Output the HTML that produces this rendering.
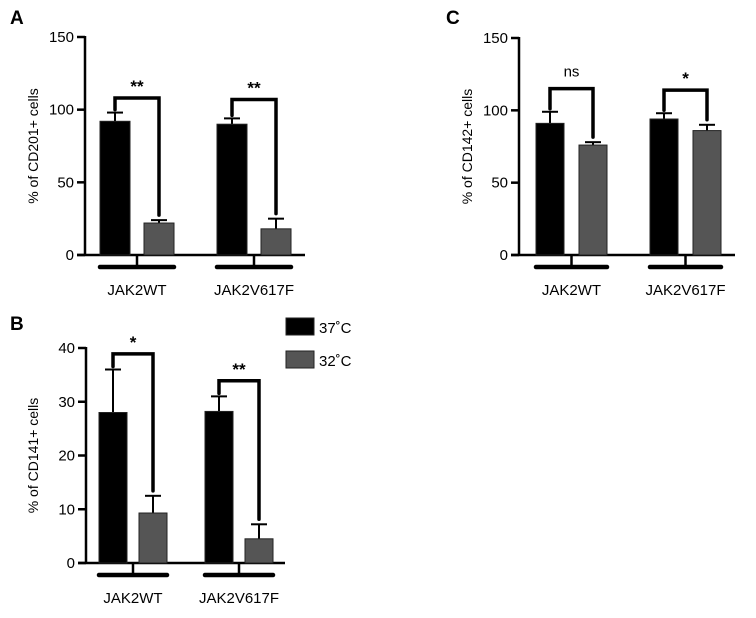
<!DOCTYPE html>
<html><head><meta charset="utf-8"><style>
html,body{margin:0;padding:0;background:#fff;}
svg{display:block;font-family:"Liberation Sans",Arial,sans-serif;}
</style></head><body>
<svg id="fig" width="756" height="618" viewBox="0 0 756 618" xmlns="http://www.w3.org/2000/svg">
<text x="10" y="24" font-size="19" font-weight="bold">A</text>
<text x="10" y="330" font-size="19" font-weight="bold">B</text>
<text x="446" y="24" font-size="19" font-weight="bold">C</text>
<g>
<rect x="286" y="318" width="28" height="17" fill="#000" stroke="#222"/>
<text x="319" y="333" font-size="15">37˚C</text>
<rect x="286" y="351" width="28" height="17" fill="#555" stroke="#222"/>
<text x="319" y="366" font-size="15">32˚C</text>
</g>
</svg>
<script>
const categories = ["JAK2WT", "JAK2V617F"];
const seriesNames = ["37C", "32C"];
const aMeans37 = [92, 90];
const aErr37 = [6, 4];
const aMeans32 = [22, 18];
const aErr32 = [2, 7];
const aSig = ["**", "**"];
const aBracketTop = [108, 107];
const aTicks = [0, 50, 100, 150];
const bMeans37 = [28, 28.2];
const bErr37 = [8, 2.8];
const bMeans32 = [9.3, 4.5];
const bErr32 = [3.2, 2.7];
const bSig = ["*", "**"];
const bBracketTop = [38.9, 33.9];
const bTicks = [0, 10, 20, 30, 40];
const cMeans37 = [91, 94];
const cErr37 = [8, 4];
const cMeans32 = [76, 86];
const cErr32 = [2, 4];
const cSig = ["ns", "*"];
const cBracketTop = [115, 114];
const cTicks = [0, 50, 100, 150];

const NS = "http://www.w3.org/2000/svg";
const svg = document.getElementById('fig');
function mk(tag, attrs, parent) {
  const e = document.createElementNS(NS, tag);
  for (const k in attrs) e.setAttribute(k, attrs[k]);
  (parent || svg).appendChild(e);
  return e;
}
function panel(cfg) {
  const g = mk('g', {});
  
  
  const ymax = cfg.ticks[cfg.ticks.length - 1];
  const y = v => cfg.y0 - (v / ymax) * (cfg.y0 - cfg.yTop);
  // axes
  const ya = mk('line', {x1: cfg.ax, y1: y(ymax) - 1, x2: cfg.ax, y2: cfg.y0, stroke: '#000', 'stroke-width': 2.5}, g);
  
  
  const xa = mk('line', {x1: cfg.ax - 8, y1: cfg.y0, x2: cfg.axEnd, y2: cfg.y0, stroke: '#000', 'stroke-width': 2.5}, g);
  
  
  cfg.ticks.forEach(t => {
    const tl = mk('line', {x1: cfg.ax - 8, y1: y(t), x2: cfg.ax, y2: y(t), stroke: '#000', 'stroke-width': 2.5}, g);
    
    
    const tx = mk('text', {x: cfg.ax - 11, y: y(t) + 5, 'font-size': 15, 'text-anchor': 'end'}, g);
    tx.textContent = t;
    
    
  });
  const yt = mk('text', {x: 0, y: 0, 'font-size': 14, 'text-anchor': 'middle', transform: `translate(${cfg.titleX},${(cfg.y0 + cfg.yTop) / 2}) rotate(-90)`}, g);
  yt.textContent = cfg.title;
  
  
  categories.forEach((cat, i) => {
    const gx = cfg.gx[i];
    const bx1 = gx, bx2 = gx + cfg.gap;
    const w = cfg.bw;
    const series = [[cfg.m37[i], cfg.e37[i], '#000', bx1], [cfg.m32[i], cfg.e32[i], '#555', bx2]];
    series.forEach((s, si) => {
      const cx = s[3] + w / 2;
      const el = mk('line', {x1: cx, y1: y(s[0]), x2: cx, y2: y(s[0] + s[1]), stroke: '#000', 'stroke-width': 2}, g);
      
      
      const cap = mk('line', {x1: cx - 8, y1: y(s[0] + s[1]), x2: cx + 8, y2: y(s[0] + s[1]), stroke: '#000', 'stroke-width': 2}, g);
      
      
      const r = mk('rect', {x: s[3], y: y(s[0]), width: w, height: cfg.y0 - y(s[0]), fill: s[2], stroke: '#222', 'stroke-width': 1}, g);
      
      
    });
    // bracket
    const lx = bx1 + w / 2, rx = bx2 + w / 2;
    const top = y(cfg.bt[i]);
    const lb = y(cfg.m37[i] + cfg.e37[i]) - 3;
    const rb = y(cfg.m32[i] + cfg.e32[i]) - 5;
    const br = mk('path', {d: `M${lx},${lb} L${lx},${top} L${rx},${top} L${rx},${rb}`, fill: 'none', stroke: '#000', 'stroke-width': 3.5, 'stroke-linecap': 'round'}, g);
    
    
    const st = mk('text', {x: (lx + rx) / 2, y: top - (cfg.sig[i] === 'ns' ? 12 : 6), 'font-size': cfg.sig[i] === 'ns' ? 15 : 17, 'font-weight': cfg.sig[i] === 'ns' ? 'normal' : 'bold', 'text-anchor': 'middle'}, g);
    st.textContent = cfg.sig[i];
    
    
    // group underline
    const ul = mk('line', {x1: bx1, y1: cfg.y0 + 12, x2: bx2 + w, y2: cfg.y0 + 12, stroke: '#000', 'stroke-width': 4.5, 'stroke-linecap': 'round'}, g);
    
    
    const mid = (bx1 + bx2 + w) / 2;
    const gt = mk('line', {x1: mid, y1: cfg.y0, x2: mid, y2: cfg.y0 + 12, stroke: '#000', 'stroke-width': 2.5}, g);
    
    
    const lab = mk('text', {x: mid, y: cfg.y0 + 40, 'font-size': 15, 'text-anchor': 'middle'}, g);
    lab.textContent = cat;
    
    
  });
}
panel({id: 'cd201', title: '% of CD201+ cells', ax: 85, axEnd: 305, y0: 255, yTop: 37, ticks: aTicks, titleX: 38, gx: [100, 217], gap: 44, bw: 30, m37: aMeans37, e37: aErr37, m32: aMeans32, e32: aErr32, sig: aSig, bt: aBracketTop});
panel({id: 'cd141', title: '% of CD141+ cells', ax: 86, axEnd: 285, y0: 563, yTop: 348, ticks: bTicks, titleX: 38, gx: [99, 205], gap: 40, bw: 28, m37: bMeans37, e37: bErr37, m32: bMeans32, e32: bErr32, sig: bSig, bt: bBracketTop});
panel({id: 'cd142', title: '% of CD142+ cells', ax: 519, axEnd: 735, y0: 255, yTop: 38, ticks: cTicks, titleX: 472, gx: [536, 650], gap: 43, bw: 28, m37: cMeans37, e37: cErr37, m32: cMeans32, e32: cErr32, sig: cSig, bt: cBracketTop});
</script>
</body></html>
